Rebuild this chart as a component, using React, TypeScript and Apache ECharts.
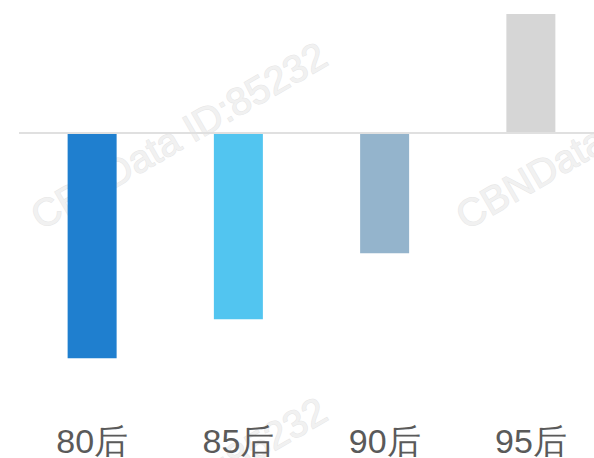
import React, { useEffect, useRef } from "react";
import * as echarts from "echarts";

const categories = ["80后", "85后", "90后", "95后"];
const values = [-36.5, -30.2, -19.5, 19.3];
const palette = ["#1f7fcf", "#52c5f0", "#94b4cc", "#d6d6d6"];
const watermarkText = "CBNData ID:85232";

export default function App() {
  const ref = useRef<HTMLDivElement>(null);
  useEffect(() => {
    if (!ref.current) return;
    const chart = echarts.init(ref.current, undefined, { renderer: "svg" });
    const wmStyle = {
      text: watermarkText,
      fill: "#f1f1f1",
      stroke: "#e6e6e6",
      lineWidth: 1,
      font: '39px "Liberation Sans", Arial, sans-serif',
      textAlign: "left",
      textVerticalAlign: "bottom",
    };
    const wm = (x: number, y: number) => ({
      type: "text",
      x,
      y,
      rotation: Math.PI / 6,
      z: -10,
      silent: true,
      style: wmStyle,
    });
    chart.setOption({
      animation: false,
      backgroundColor: "#ffffff",
      graphic: [wm(44, 236), wm(469, 236), wm(44, 591)],
      grid: { left: 19, top: 14, width: 585, height: 396 },
      xAxis: {
        type: "category",
        data: categories,
        axisLine: { show: false },
        axisTick: { show: false },
        axisLabel: {
          color: "#5a5a5a",
          fontSize: 34,
          lineHeight: 30,
          fontFamily: '"Liberation Sans", Arial, sans-serif',
          margin: 16,
        },
      },
      yAxis: {
        type: "value",
        min: -44.9,
        max: 19.3,
        show: false,
        splitLine: { show: false },
      },
      series: [
        {
          type: "bar",
          barWidth: 49,
          z: 2,
          data: values.map((v, i) => ({ value: v, itemStyle: { color: palette[i] } })),
          markLine: {
            silent: true,
            symbol: "none",
            label: { show: false },
            lineStyle: { color: "#e0e0e0", width: 2, type: "solid" },
            data: [{ yAxis: 0 }],
          },
        },
      ],
    });
    return () => chart.dispose();
  }, []);
  return (
    <div
      style={{ position: "fixed", left: 0, top: 0, width: 594, height: 458, overflow: "hidden" }}
    >
      <div ref={ref} style={{ width: 620, height: 458 }} />
    </div>
  );
}
